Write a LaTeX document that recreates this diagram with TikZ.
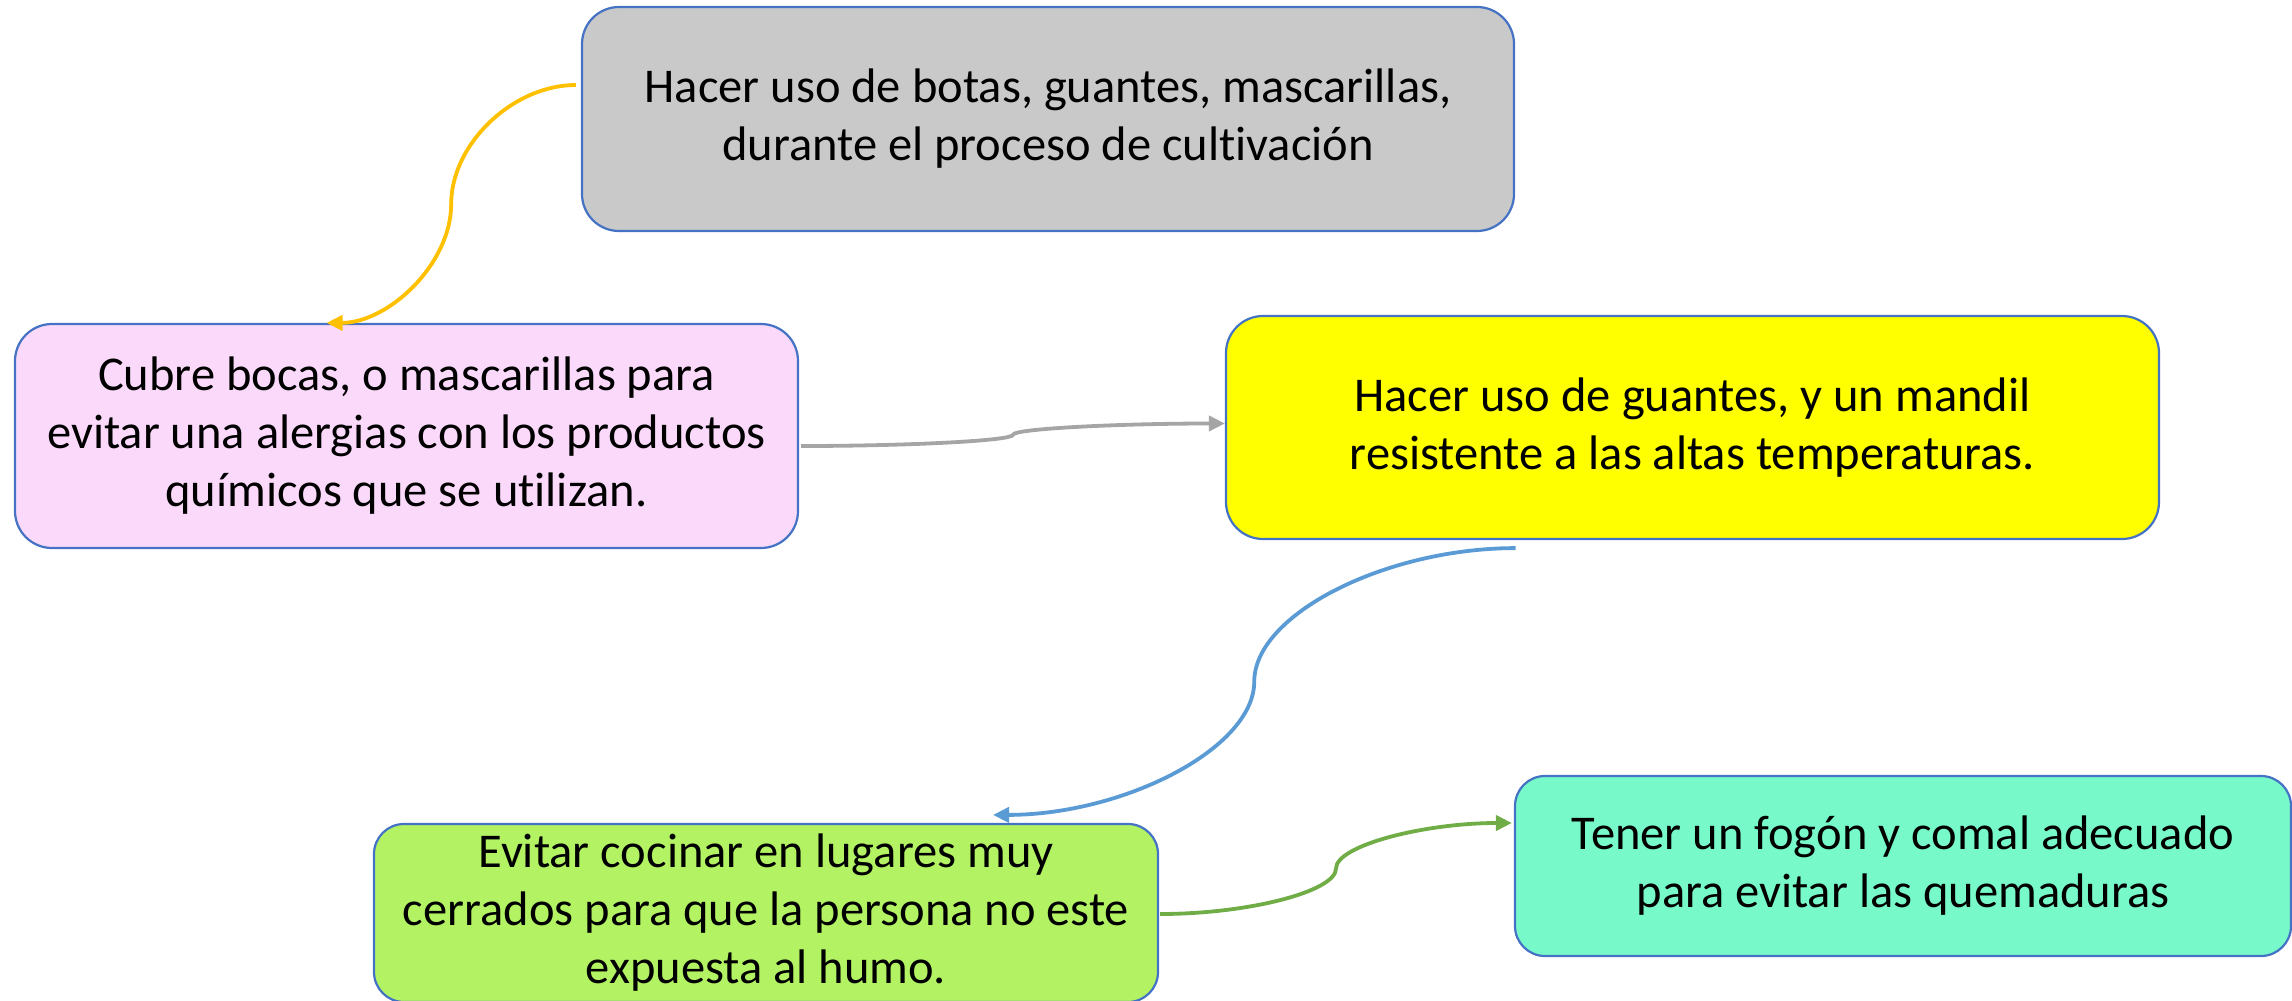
\documentclass[tikz,border=0pt]{standalone}
\usepackage{fontspec}
\setmainfont{Carlito}[Ligatures=NoCommon]
\usetikzlibrary{arrows.meta, calc}

\definecolor{boxline}{HTML}{4472C4}
\definecolor{boxgray}{HTML}{C9C9C9}
\definecolor{boxpink}{HTML}{FAD9FA}
\definecolor{boxyellow}{HTML}{FFFF00}
\definecolor{boxgreen}{HTML}{B3F263}
\definecolor{boxcyan}{HTML}{78F9C9}
\definecolor{lineorange}{HTML}{FFC000}
\definecolor{linegray}{HTML}{A5A5A5}
\definecolor{lineblue}{HTML}{5B9BD5}
\definecolor{linegreen}{HTML}{70AD47}

\begin{document}
\begin{tikzpicture}[x=0.5pt, y=-0.5pt,
  every node/.style={font=\fontsize{24.25}{29}\selectfont, align=center},
  box/.style={draw=boxline, line width=1.1pt, rounded corners=18.5pt, inner sep=0pt,
    execute at begin node={\rule{0pt}{24.5pt}}},
  conn/.style={line width=1.9pt, -{Triangle[length=8pt,width=7.5pt]}}]
\useasboundingbox (0,0) rectangle (2292,1001);
% Boxes
\node[box,fill=boxgray,minimum width=466pt,minimum height=112pt] (Equipo) at (1048,119) {Hacer uso de botas, guantes, mascarillas,\\durante el proceso de cultivación};
\node[box,fill=boxpink,minimum width=391.5pt,minimum height=112pt] (Mascarilla) at (406.5,436) {Cubre bocas, o mascarillas para\\evitar una alergias con los productos\\químicos que se utilizan.};
\node[box,fill=boxyellow,minimum width=466.5pt,minimum height=111.5pt] (Mandil) at (1692.5,427.5) {Hacer uso de guantes, y un mandil\\resistente a las altas temperaturas.};
\node[box,fill=boxgreen,minimum width=392pt,minimum height=89pt,rounded corners=15pt] (Humo) at (766,913) {Evitar cocinar en lugares muy\\cerrados para que la persona no este\\expuesta al humo.};
\node[box,fill=boxcyan,minimum width=388pt,minimum height=90pt,rounded corners=15pt] (Fogon) at (1903,866) {Tener un fogón y comal adecuado\\para evitar las quemaduras};
% Connector ends
\coordinate (EquipoOut) at ($(Equipo.west)+(-5,-34)$);
\coordinate (MascarillaIn) at ($(Mascarilla.north)+(-80,0)$);
\coordinate (MascarillaOut) at ($(Mascarilla.east)+(2,10)$);
\coordinate (MandilIn) at ($(Mandil.west)+(0,-4)$);
\coordinate (MandilOut) at ($(Mandil.south)+(-177,8)$);
\coordinate (HumoIn) at ($(Humo.north)+(227,-8)$);
\coordinate (HumoOut) at ($(Humo.east)+(1,1)$);
\coordinate (FogonIn) at ($(Fogon.west)+(-2,-43)$);
\coordinate (M1) at ($(EquipoOut)!0.5!(MascarillaIn)$);
\coordinate (M2) at ($(MascarillaOut)!0.5!(MandilIn)$);
\coordinate (M3) at ($(MandilOut)!0.5!(HumoIn)$);
\coordinate (M4) at ($(HumoOut)!0.5!(FogonIn)$);
% Arrows
\draw[conn,lineorange] (EquipoOut) .. controls +(-63,0) and +(0,-60) .. (M1) .. controls +(0,60) and +(62,0) .. (MascarillaIn);
\draw[conn,linegray] (MascarillaOut) .. controls +(106,0) and +(0,6) .. (M2) .. controls +(0,-6) and +(-106,0) .. (MandilIn);
\draw[conn,lineblue] (MandilOut) .. controls +(-130,0) and +(0,-67) .. (M3) .. controls +(0,67) and +(130,0) .. (HumoIn);
\draw[conn,linegreen] (HumoOut) .. controls +(88,0) and +(0,23) .. (M4) .. controls +(0,-23) and +(-88,0) .. (FogonIn);
\end{tikzpicture}
\end{document}
